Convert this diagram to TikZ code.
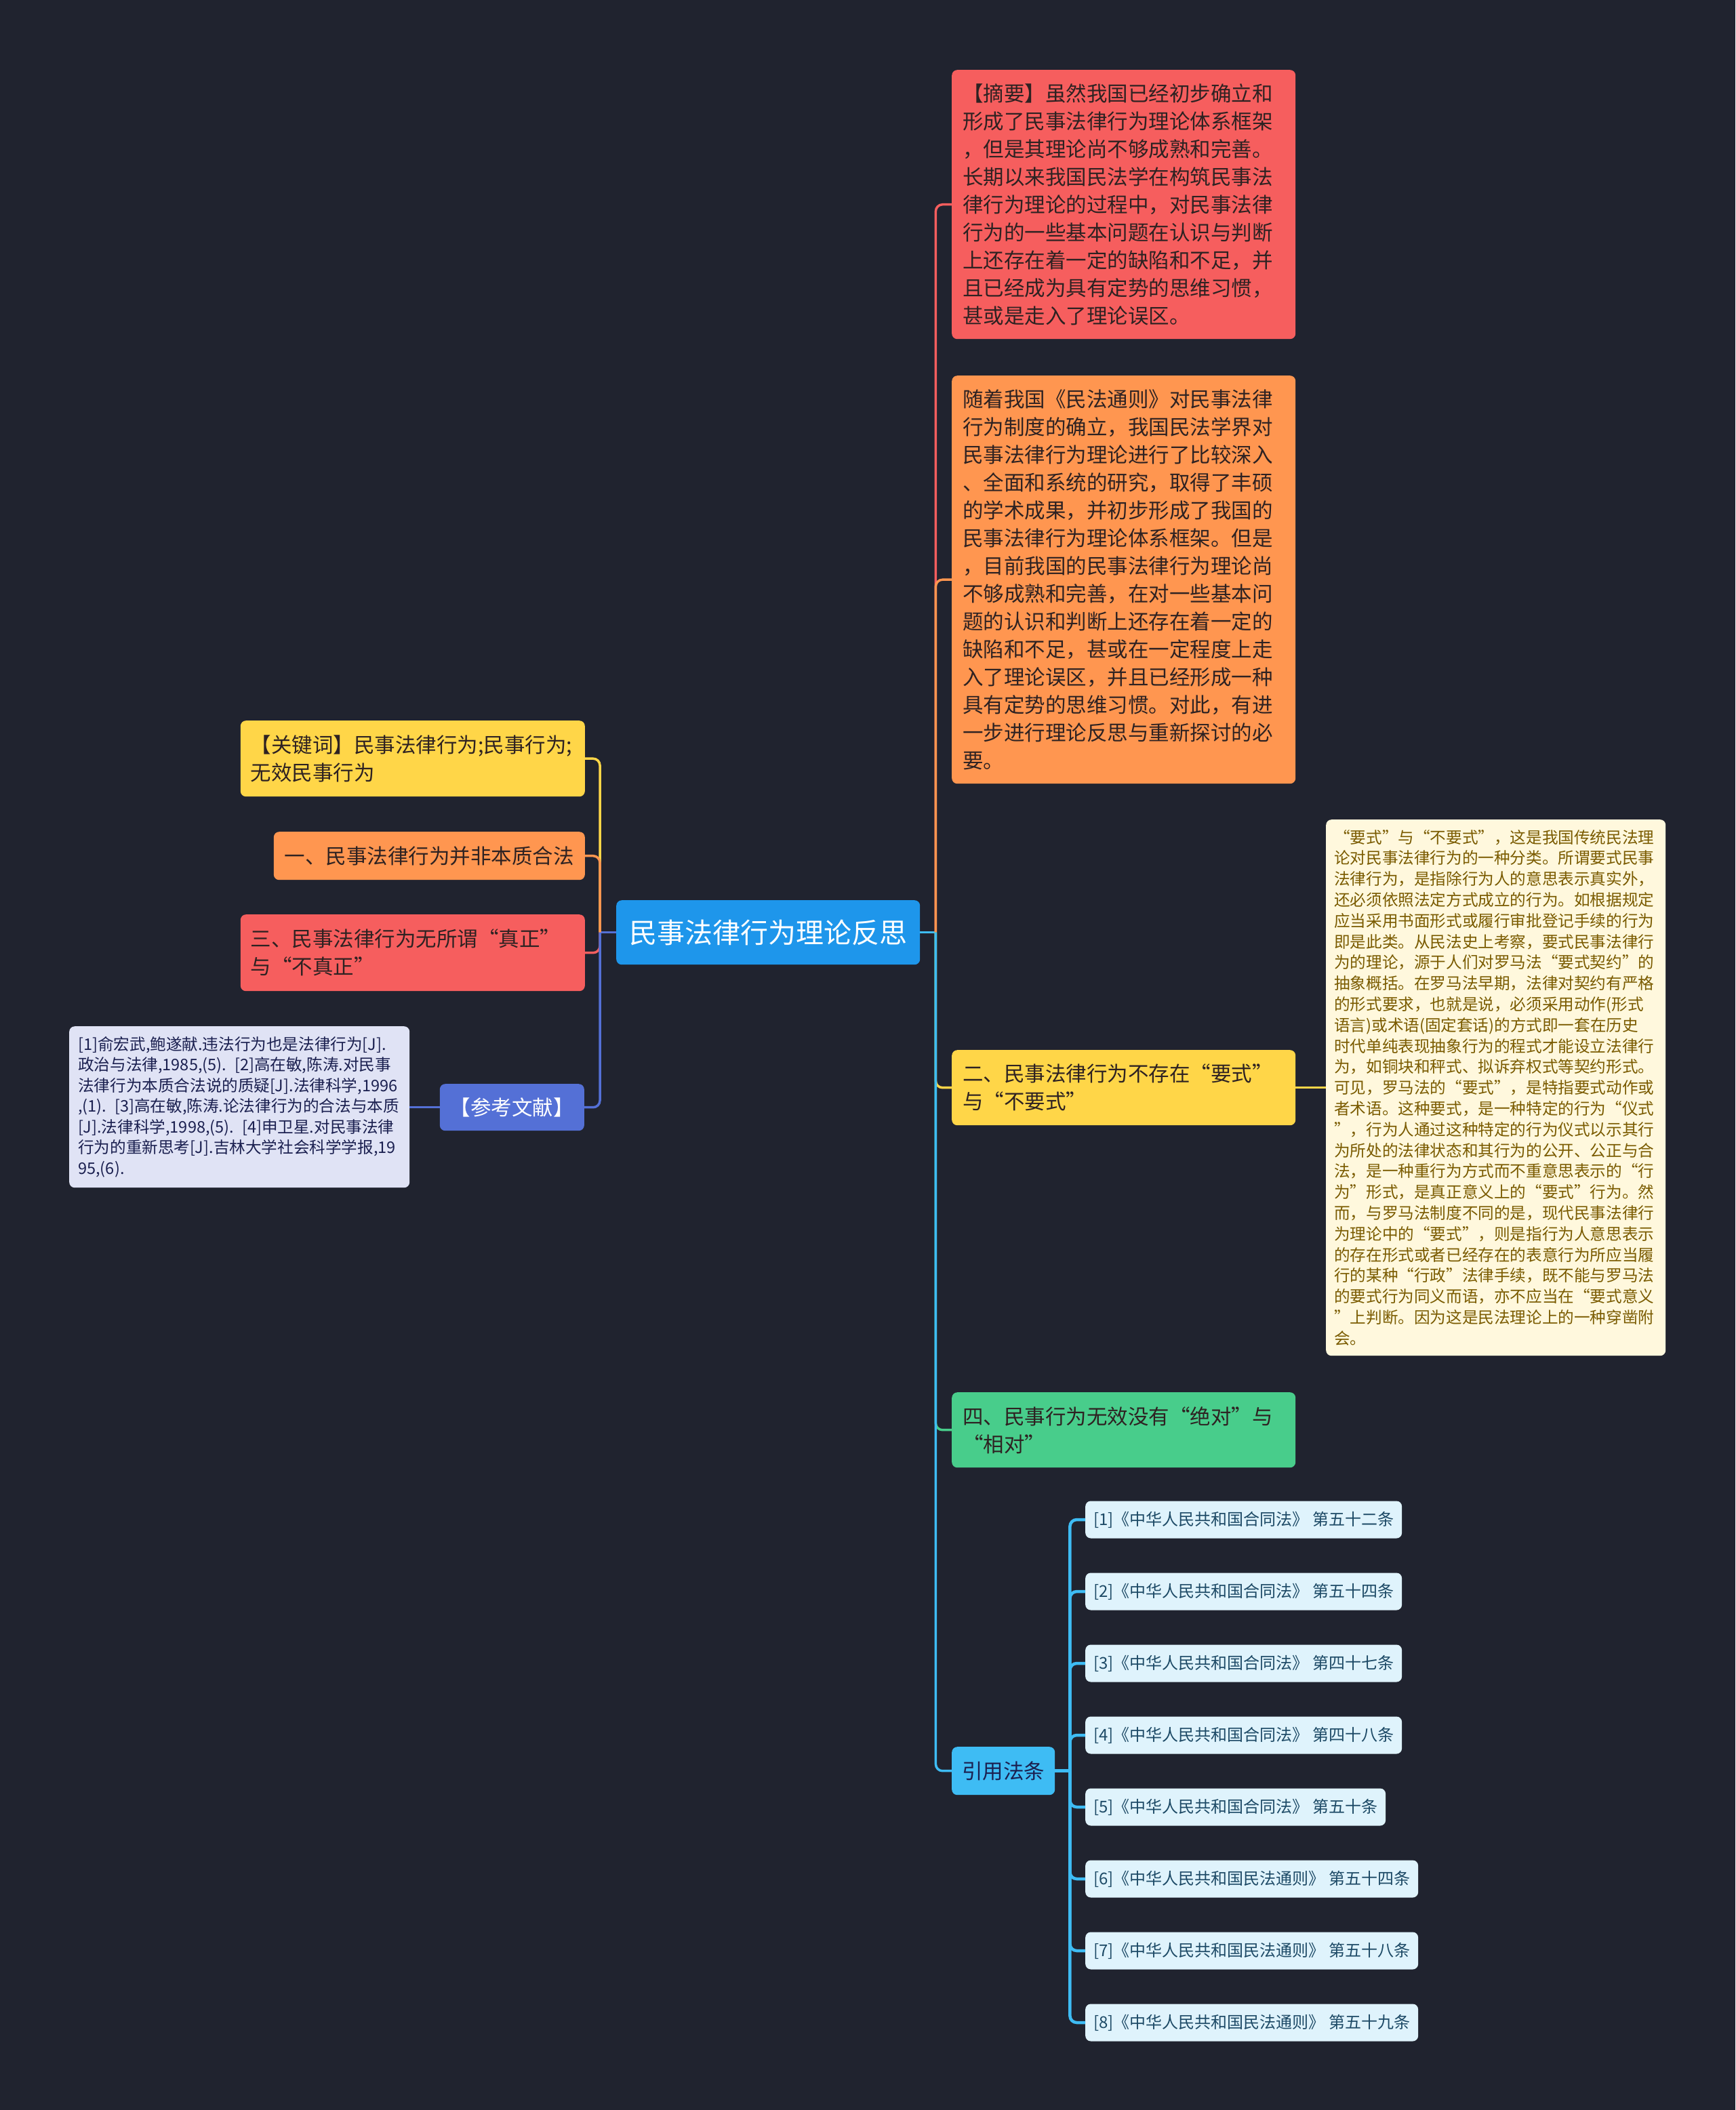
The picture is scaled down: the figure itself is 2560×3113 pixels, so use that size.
\documentclass[tikz,border=0pt]{standalone}
\usepackage{fontspec}
\setmainfont{Noto Sans CJK SC}
\usepackage{xcolor}
\usepackage{tikz}
\usetikzlibrary{positioning}
\definecolor{canvas}   {HTML}{20232F}
\definecolor{rootblue} {HTML}{1E96EB}
\definecolor{redbox}   {HTML}{F65E5E}
\definecolor{orangebox}{HTML}{FF9650}
\definecolor{yellowbox}{HTML}{FFD648}
\definecolor{greenbox} {HTML}{48CD8B}
\definecolor{refblue}  {HTML}{5470D6}
\definecolor{refpaper} {HTML}{E0E3F5}
\definecolor{refink}   {HTML}{1B2050}
\definecolor{cream}    {HTML}{FFF8DD}
\definecolor{creamtext}{HTML}{7A5B00}
\definecolor{lawblue}  {HTML}{3EBCF4}
\definecolor{lawpaper} {HTML}{DFF3FC}
\definecolor{lawtext}  {HTML}{1D4A66}
\definecolor{ink}      {HTML}{2E2222}

\begin{document}
\begin{tikzpicture}[x=1pt,y=-1pt,
    box/.style={rounded corners=8pt,inner ysep=0pt,align=left,text=ink,
                font=\fontsize{30.5pt}{41pt}\selectfont},
    small/.style={font=\fontsize{23.6pt}{30.8pt}\selectfont},
    link/.style={line width=3.5pt,rounded corners=10pt},
    lawitem/.style={box,fill=lawpaper,text=lawtext,inner xsep=12pt,
                    minimum height=55pt,font=\fontsize{24pt}{30pt}\selectfont}]
  \fill[canvas] (0,0) rectangle (2560,3113);
  \node[box,fill=rootblue,text=white,anchor=north west,inner xsep=19pt,
        minimum height=95pt,font=\fontsize{41pt}{48pt}\selectfont]
        (root) at (909,1328) {民事法律行为理论反思};
  % right side
  \node[box,fill=redbox,anchor=north west,text width=475pt,inner xsep=16pt,
        minimum height=397pt] (abstract) at (1404,103)
       {【摘要】虽然我国已经初步确立和\\
        形成了民事法律行为理论体系框架\\
        ，但是其理论尚不够成熟和完善。\\
        长期以来我国民法学在构筑民事法\\
        律行为理论的过程中，对民事法律\\
        行为的一些基本问题在认识与判断\\
        上还存在着一定的缺陷和不足，并\\
        且已经成为具有定势的思维习惯，\\
        甚或是走入了理论误区。};
  \node[box,fill=orangebox,anchor=north west,text width=475pt,inner xsep=16pt,
        minimum height=602pt] (survey) at (1404,554)
       {随着我国《民法通则》对民事法律\\
        行为制度的确立，我国民法学界对\\
        民事法律行为理论进行了比较深入\\
        、全面和系统的研究，取得了丰硕\\
        的学术成果，并初步形成了我国的\\
        民事法律行为理论体系框架。但是\\
        ，目前我国的民事法律行为理论尚\\
        不够成熟和完善，在对一些基本问\\
        题的认识和判断上还存在着一定的\\
        缺陷和不足，甚或在一定程度上走\\
        入了理论误区，并且已经形成一种\\
        具有定势的思维习惯。对此，有进\\
        一步进行理论反思与重新探讨的必\\
        要。};
  \node[box,fill=yellowbox,anchor=north west,text width=475pt,inner xsep=16pt,
        minimum height=111pt] (formal) at (1404,1549)
       {二、民事法律行为不存在“要式”\\与“不要式”};
  \node[box,small,fill=cream,text=creamtext,anchor=north west,text width=477pt,
        inner xsep=12pt,minimum height=791pt] (formalnote) at (1956,1209)
       {“要式”与“不要式”，这是我国传统民法理\\
        论对民事法律行为的一种分类。所谓要式民事\\
        法律行为，是指除行为人的意思表示真实外，\\
        还必须依照法定方式成立的行为。如根据规定\\
        应当采用书面形式或履行审批登记手续的行为\\
        即是此类。从民法史上考察，要式民事法律行\\
        为的理论，源于人们对罗马法“要式契约”的\\
        抽象概括。在罗马法早期，法律对契约有严格\\
        的形式要求，也就是说，必须采用动作(形式\\
        语言)或术语(固定套话)的方式即一套在历史\\
        时代单纯表现抽象行为的程式才能设立法律行\\
        为，如铜块和秤式、拟诉弃权式等契约形式。\\
        可见，罗马法的“要式”，是特指要式动作或\\
        者术语。这种要式，是一种特定的行为“仪式\\
        ”，行为人通过这种特定的行为仪式以示其行\\
        为所处的法律状态和其行为的公开、公正与合\\
        法，是一种重行为方式而不重意思表示的“行\\
        为”形式，是真正意义上的“要式”行为。然\\
        而，与罗马法制度不同的是，现代民事法律行\\
        为理论中的“要式”，则是指行为人意思表示\\
        的存在形式或者已经存在的表意行为所应当履\\
        行的某种“行政”法律手续，既不能与罗马法\\
        的要式行为同义而语，亦不应当在“要式意义\\
        ”上判断。因为这是民法理论上的一种穿凿附\\
        会。};
  \node[box,fill=greenbox,anchor=north west,text width=475pt,inner xsep=16pt,
        minimum height=111pt] (voidact) at (1404,2054)
       {四、民事行为无效没有“绝对”与\\“相对”};
  \node[box,fill=lawblue,text=refink,anchor=north west,inner xsep=15pt,
        minimum height=71pt] (law) at (1404,2577) {引用法条};
  % left side
  \node[box,fill=yellowbox,anchor=north east,text width=478pt,inner xsep=15pt,
        minimum height=112pt] (keywords) at (863,1063)
       {【关键词】民事法律行为;民事行为;\\无效民事行为};
  \node[box,fill=orangebox,anchor=north east,inner xsep=16pt,
        minimum height=71pt] (part1) at (863,1227) {一、民事法律行为并非本质合法};
  \node[box,fill=redbox,anchor=north east,text width=478pt,inner xsep=15pt,
        minimum height=113pt] (part3) at (863,1349)
       {三、民事法律行为无所谓“真正”\\与“不真正”};
  \node[box,fill=refblue,text=white,anchor=north east,inner xsep=15pt,
        minimum height=69pt] (refs) at (862,1599) {【参考文献】};
  \node[box,fill=refpaper,text=refink,anchor=north west,text width=476pt,
        inner xsep=13pt,minimum height=238pt,font=\fontsize{23.6pt}{30.5pt}\selectfont]
        (reflist) at (102,1514)
       {[1]俞宏武,鲍遂献.违法行为也是法律行为[J].\\
        政治与法律,1985,(5). [2]高在敏,陈涛.对民事\\
        法律行为本质合法说的质疑[J].法律科学,1996\\
        ,(1). [3]高在敏,陈涛.论法律行为的合法与本质\\{}%
        [J].法律科学,1998,(5). [4]申卫星.对民事法律\\
        行为的重新思考[J].吉林大学社会科学学报,19\\
        95,(6).};
  % connectors
  \coordinate (lhub) at ([xshift=-24pt]root.west);
  \coordinate (rhub) at ([xshift=23pt]root.east);
  \draw[link,refblue] (root.west) -- (lhub);
  \foreach \n/\c in {keywords/yellowbox,part1/orangebox,part3/redbox,refs/refblue}
    \draw[link,\c] (lhub) |- (\n.east);
  \draw[link,refblue] (refs.west) -- (refs.west -| reflist.east);
  \draw[link,lawblue] (root.east) -- (rhub);
  \foreach \n/\c in {abstract/redbox,survey/orangebox,formal/yellowbox,
                     voidact/greenbox,law/lawblue}
    \draw[link,\c] (rhub) |- (\n.west);
  \draw[link,yellowbox] (formal.east) -- (formalnote.west);
  \coordinate (lawhub) at ([xshift=22pt]law.east);
  \draw[link,lawblue,line width=4.5pt] (law.east) -- (lawhub);
  \foreach \i/\t in {1/{[1]《中华人民共和国合同法》 第五十二条},
                     2/{[2]《中华人民共和国合同法》 第五十四条},
                     3/{[3]《中华人民共和国合同法》 第四十七条},
                     4/{[4]《中华人民共和国合同法》 第四十八条},
                     5/{[5]《中华人民共和国合同法》 第五十条},
                     6/{[6]《中华人民共和国民法通则》 第五十四条},
                     7/{[7]《中华人民共和国民法通则》 第五十八条},
                     8/{[8]《中华人民共和国民法通则》 第五十九条}}{
    \node[lawitem,anchor=west] (art\i) at (1601,2136+106*\i) {\t};
    \draw[link,lawblue,line width=4.5pt] (lawhub) |- (art\i.west);}
\end{tikzpicture}
\end{document}
